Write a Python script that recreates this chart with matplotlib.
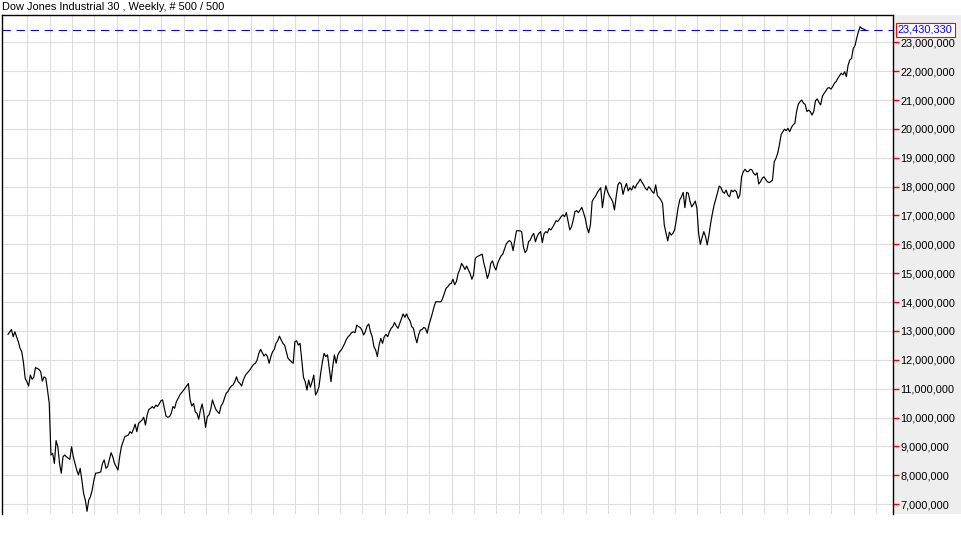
import matplotlib
matplotlib.use("Agg")
import matplotlib.pyplot as plt
from matplotlib.ticker import FuncFormatter, FixedLocator
import numpy as np

plt.rcParams['font.family'] = ['Liberation Sans', 'DejaVu Sans']

# ---------------- data (values in millions) ----------------
title = "Dow Jones Industrial 30 , Weekly, # 500 / 500"
last_value = 23430330

weeks = [
    0, 2, 3, 4, 5, 6, 7, 8, 9, 10, 11, 12, 13, 14, 15, 16, 18, 19, 20, 21, 22, 23, 24, 25, 26, 27, 28, 29,
    30, 31, 32, 33, 34, 36, 37, 38, 39, 40, 41, 42, 43, 44, 45, 46, 47, 48, 49, 50, 51, 53, 54, 55, 56, 57,
    58, 60, 61, 62, 64, 65, 66, 67, 68, 70, 71, 72, 73, 74, 75, 76, 78, 79, 80, 81, 82, 83, 84, 85, 86, 87,
    88, 89, 90, 91, 92, 93, 94, 95, 96, 97, 98, 99, 100, 101, 102, 103, 105, 106, 107, 108, 109, 110, 111,
    112, 113, 114, 115, 116, 117, 118, 119, 120, 121, 122, 123, 124, 125, 126, 127, 128, 129, 130, 131, 132,
    133, 134, 135, 136, 137, 138, 139, 140, 141, 142, 143, 144, 145, 146, 147, 148, 149, 150, 151, 152, 153,
    154, 155, 156, 157, 158, 159, 160, 161, 162, 163, 164, 165, 166, 167, 168, 169, 170, 171, 172, 173, 174,
    175, 176, 177, 178, 179, 180, 181, 182, 183, 184, 185, 186, 187, 188, 189, 190, 191, 192, 193, 194, 195,
    196, 197, 198, 199, 200, 201, 202, 203, 204, 205, 206, 207, 208, 209, 210, 211, 212, 213, 214, 215, 216,
    217, 218, 219, 220, 221, 222, 223, 224, 225, 226, 227, 228, 229, 230, 231, 232, 233, 234, 235, 236, 237,
    238, 239, 240, 241, 242, 243, 244, 245, 246, 247, 248, 249, 250, 252, 253, 254, 255, 256, 257, 258, 259,
    260, 261, 262, 263, 264, 265, 266, 267, 268, 269, 270, 271, 272, 273, 274, 275, 276, 277, 278, 279, 280,
    281, 282, 283, 284, 285, 286, 287, 288, 289, 290, 291, 292, 293, 294, 295, 296, 297, 298, 299, 300, 301,
    302, 303, 304, 305, 306, 307, 308, 309, 310, 311, 312, 313, 314, 315, 316, 317, 318, 319, 320, 321, 322,
    323, 324, 325, 326, 327, 328, 329, 330, 331, 332, 333, 334, 335, 336, 337, 338, 339, 340, 341, 342, 343,
    344, 345, 346, 347, 348, 349, 350, 351, 352, 353, 354, 355, 356, 357, 358, 359, 360, 361, 362, 363, 364,
    365, 366, 367, 368, 369, 370, 371, 372, 373, 374, 375, 376, 377, 378, 379, 380, 381, 382, 383, 384, 385,
    386, 387, 388, 389, 390, 391, 392, 393, 394, 395, 396, 397, 398, 399, 400, 401, 402, 403, 404, 405, 406,
    407, 408, 409, 410, 411, 412, 413, 414, 415, 416, 417, 418, 419, 420, 421, 422, 423, 424, 425, 426, 427,
    428, 429, 430, 431, 432, 433, 434, 435, 436, 437, 438, 439, 440, 441, 442, 443, 444, 445, 446, 447, 448,
    449, 450, 451, 452, 453, 454, 455, 456, 457, 458, 459, 460, 461, 462, 463, 464, 465, 466, 467, 468, 469,
    470, 471, 472, 473, 474, 475, 476, 477, 478, 479, 480, 481, 482, 483, 484, 485, 486, 487, 488, 489, 490,
    491, 492, 493, 494, 495, 496, 497, 498, 499,
]

close_m = [
    12.88, 13.05, 12.80, 12.97, 12.80, 12.63, 12.40, 12.28, 11.90, 11.36, 11.24, 11.09, 11.47, 11.33, 11.39,
    11.73, 11.67, 11.59, 11.26, 11.41, 11.36, 10.95, 10.49, 8.70, 8.76, 8.41, 9.20, 8.99,
    8.41, 8.07, 8.64, 8.70, 8.64, 8.55, 8.99, 8.64, 8.41, 8.18, 8.01, 8.24, 7.83, 7.37, 7.14, 6.75, 7.14,
    7.26, 7.49, 7.83, 8.07, 8.09, 8.12, 8.41, 8.53, 8.24,
    8.30, 8.78, 8.64, 8.41, 8.18, 8.64, 8.99, 9.16, 9.34, 9.39, 9.51, 9.45, 9.59, 9.77, 9.51, 9.80, 9.91,
    10.01, 9.74, 10.09, 10.28, 10.32, 10.38, 10.32, 10.43, 10.38,
    10.47, 10.58, 10.61, 10.32, 10.05, 10.01, 10.03, 10.14, 10.38, 10.32, 10.55, 10.66, 10.78, 10.86, 10.93,
    11.01, 11.18, 10.61, 10.40, 10.49, 10.20, 10.14, 9.94,
    10.26, 10.47, 10.14, 9.66, 10.03, 10.09, 10.28, 10.61, 10.43, 10.28, 10.20, 10.14, 10.40, 10.49, 10.66,
    10.84, 10.90, 11.01, 11.09, 11.13, 11.24,
    11.41, 11.24, 11.18, 11.09, 11.30, 11.44, 11.53, 11.59, 11.67, 11.76, 11.84, 11.88, 11.99, 12.22, 12.36,
    12.25, 12.13, 12.20, 12.11, 11.88, 12.11,
    12.28, 12.36, 12.57, 12.66, 12.82, 12.69, 12.57, 12.51, 12.28, 12.05, 11.99, 11.93, 11.88, 12.63, 12.66,
    12.51, 12.57, 11.99, 11.39, 11.24, 10.95,
    11.30, 11.05, 11.24, 11.47, 10.78, 10.89, 11.07, 11.53, 11.93, 12.22, 12.11, 12.17, 11.70, 11.24, 11.76,
    12.17, 11.88, 12.17, 12.28, 12.34, 12.45,
    12.57, 12.71, 12.80, 12.86, 12.94, 12.97, 12.94, 13.20, 13.15, 13.12, 13.03, 12.86, 12.97, 13.17, 13.24,
    12.97, 12.80, 12.45, 12.34, 12.11, 12.51,
    12.74, 12.57, 12.80, 12.88, 12.80, 12.97, 13.09, 13.15, 13.29, 13.17, 13.09, 13.26, 13.44, 13.59, 13.47,
    13.59, 13.44, 13.35, 13.15, 13.09, 12.80,
    12.59, 12.86, 13.03, 13.05, 13.12, 13.09, 12.92, 13.20, 13.40, 13.61, 13.84, 14.01, 14.01, 14.01, 14.13,
    14.30, 14.48, 14.53, 14.62, 14.65, 14.79,
    14.60, 14.71, 14.99, 15.13, 15.34, 15.25, 15.13, 15.25, 15.11, 14.99, 14.79, 14.95, 15.51, 15.57, 15.60,
    15.63, 15.66, 15.34, 15.11, 14.82, 14.99,
    15.34, 15.43, 15.23, 15.11, 15.34, 15.48, 15.60, 15.66, 15.83, 16.01, 16.09, 16.13, 16.06, 15.78, 16.15,
    16.47, 16.47, 16.47, 16.44, 15.92, 15.71,
    15.80, 16.09, 16.15, 16.29, 16.38, 16.09, 16.27, 16.38, 16.44, 16.06, 16.36, 16.44, 16.40, 16.55, 16.50,
    16.59, 16.70, 16.82, 16.79, 16.87, 16.96,
    17.02, 16.96, 17.10, 16.79, 16.50, 16.61, 16.84, 17.13, 17.17, 17.10, 17.19, 17.28, 17.10, 16.90, 16.59,
    16.40, 16.67, 17.48, 17.59, 17.67, 17.79,
    17.88, 17.96, 17.27, 17.71, 18.03, 17.82, 17.69, 17.59, 17.48, 17.19, 17.65, 18.06, 18.15, 18.08, 17.73,
    17.96, 18.11, 17.85, 17.96, 17.88, 18.03,
    17.94, 18.08, 18.15, 18.26, 18.15, 18.06, 17.94, 17.88, 18.00, 17.92, 17.82, 17.77, 18.06, 17.69, 17.62,
    17.54, 17.42, 16.67, 16.40, 16.12, 16.42,
    16.32, 16.38, 16.50, 16.84, 17.25, 17.54, 17.65, 17.80, 17.27, 17.80, 17.77, 17.48, 17.30, 17.39, 17.50,
    17.25, 16.38, 16.00, 16.23, 16.44, 16.27,
    15.98, 16.32, 16.73, 17.07, 17.36, 17.57, 17.80, 18.02, 17.97, 17.82, 17.77, 17.88, 17.71, 17.65, 17.88,
    17.82, 17.88, 17.82, 17.59, 17.71, 18.34,
    18.52, 18.60, 18.52, 18.52, 18.60, 18.58, 18.46, 18.40, 18.48, 18.09, 18.17, 18.29, 18.34, 18.25, 18.17,
    18.14, 18.17, 18.23, 18.86, 18.98, 19.15,
    19.44, 19.80, 19.90, 19.99, 19.94, 20.02, 19.90, 20.05, 20.14, 20.19, 20.60, 20.85, 20.94, 21.00, 20.89,
    20.85, 20.60, 20.65, 20.60, 20.48, 20.60,
    20.97, 21.04, 20.92, 20.83, 21.12, 21.23, 21.31, 21.41, 21.43, 21.38, 21.46, 21.58, 21.64, 21.75, 21.84,
    21.93, 21.87, 21.98, 21.81, 22.21, 22.39,
    22.44, 22.79, 22.88, 23.14, 23.37, 23.54, 23.48, 23.46, 23.43033,
]

price_levels = [7, 8, 9, 10, 11, 12, 13, 14, 15, 16, 17, 18, 19, 20, 21, 22, 23]   # millions

# ---------------- figure ----------------
W, H = 961, 545
fig = plt.figure(figsize=(W / 100, H / 100), dpi=100)
fig.patch.set_facecolor('white')

# grey price-scale panel on the right (background axes)
bg = fig.add_axes([894 / W, 31 / H, (W - 894) / W, 499 / H], zorder=-5)
bg.set_facecolor('#EEEEEE')
bg.set_xticks([])
bg.set_yticks([])
for s in bg.spines.values():
    s.set_visible(False)

ax = fig.add_axes([2 / W, 31 / H, 891 / W, 499 / H], zorder=1)
ax.set_facecolor('white')

px_per_week = 1.718
x0_px = 8.0
ax.set_xlim((2 - x0_px) / px_per_week, (893 - x0_px) / px_per_week)
ax.set_ylim(6.657e6, 23.946e6)

# vertical grid (every 13 weeks)
vgrid = np.arange(11.23, 516, 13.0)
ax.xaxis.set_major_locator(FixedLocator(vgrid))
ax.tick_params(axis='x', length=0, labelbottom=False)

# horizontal grid / right price scale
ax.yaxis.tick_right()
ax.yaxis.set_major_locator(FixedLocator([v * 1e6 for v in price_levels]))
ax.yaxis.set_major_formatter(FuncFormatter(lambda v, p: f"{v:,.0f}"))
ax.tick_params(axis='y', which='major', direction='out', length=4, width=1,
               color='red', labelcolor='black', labelsize=7.9, pad=1.5)

ax.grid(True, color='#DDDDDD', linewidth=0.8)
ax.set_axisbelow(True)

for side in ('left', 'top', 'right'):
    ax.spines[side].set_color('black')
    ax.spines[side].set_linewidth(1.0)
ax.spines['bottom'].set_visible(False)

# price line
ax.plot(weeks, [v * 1e6 for v in close_m], color='black', linewidth=0.85, zorder=3)

# last-value dashed line and label
ax.axhline(last_value, color='blue', linewidth=0.75, linestyle=(0, (8, 5.5)), zorder=2)
ax.annotate(f"{last_value:,}", xy=(1.0, last_value), xycoords=('axes fraction', 'data'),
            xytext=(5, 0), textcoords='offset pixels', ha='left', va='center',
            color='blue', fontsize=7.9, annotation_clip=False,
            bbox=dict(boxstyle='square,pad=0.16', facecolor='white', edgecolor='red', linewidth=0.8))

fig.text(2 / W, 1 - 7.5 / H, title, ha='left', va='center', fontsize=7.9, color='black')

fig.savefig('out.png', dpi=100)
